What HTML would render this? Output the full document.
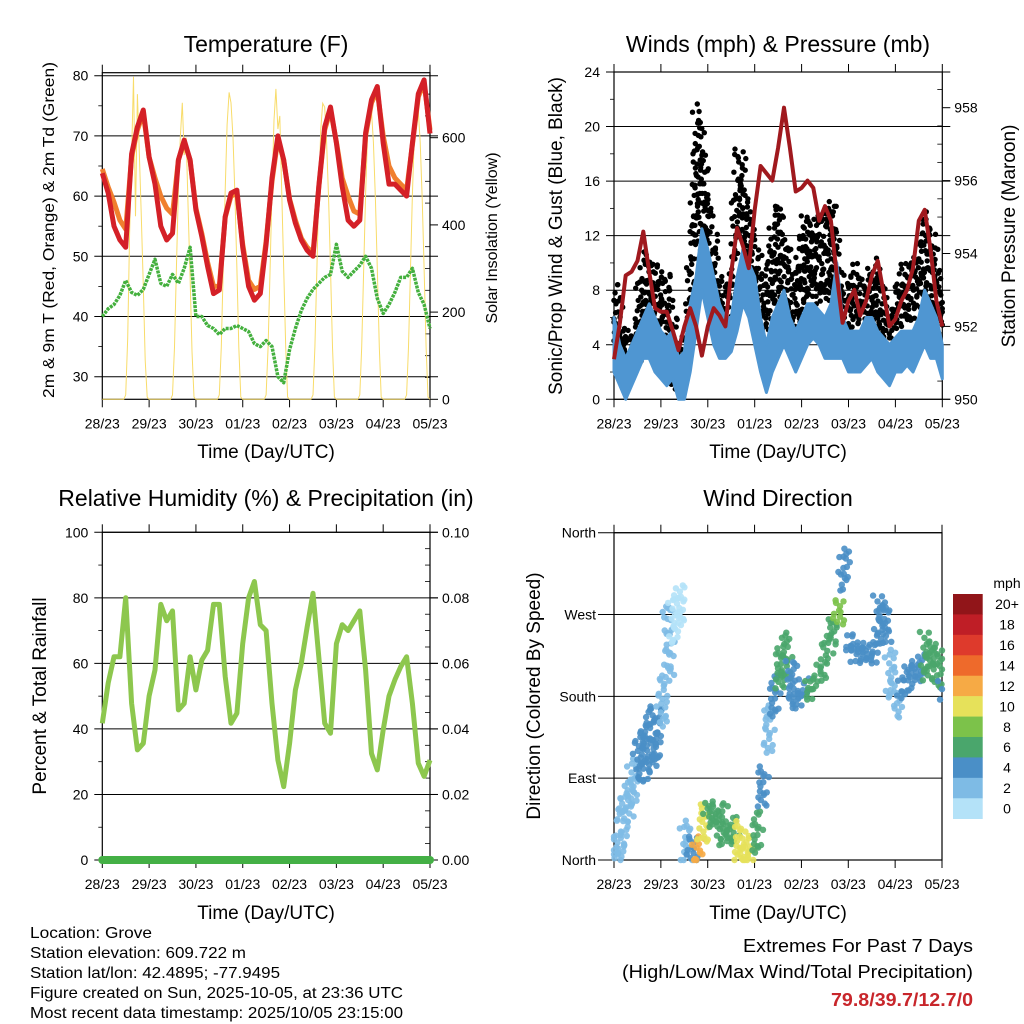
<!DOCTYPE html>
<html><head><meta charset="utf-8">
<style>
html,body{margin:0;padding:0;background:#fff;}
svg{display:block;font-family:"Liberation Sans",sans-serif;}
</style></head>
<body>
<svg id="chart" width="1024" height="1024" viewBox="0 0 1024 1024" xmlns="http://www.w3.org/2000/svg">
<rect width="1024" height="1024" fill="#fff"/>
<!-- titles -->
<text x="266" y="52" font-size="23" text-anchor="middle">Temperature (F)</text>
<text x="778" y="52" font-size="23" text-anchor="middle">Winds (mph) &amp; Pressure (mb)</text>
<text x="266" y="506" font-size="23" text-anchor="middle">Relative Humidity (%) &amp; Precipitation (in)</text>
<text x="778" y="506" font-size="23" text-anchor="middle">Wind Direction</text>
<!-- axis titles -->
<text x="266" y="458" font-size="19" text-anchor="middle">Time (Day/UTC)</text>
<text x="778" y="458" font-size="19" text-anchor="middle">Time (Day/UTC)</text>
<text x="266" y="919" font-size="19" text-anchor="middle">Time (Day/UTC)</text>
<text x="778" y="919" font-size="19" text-anchor="middle">Time (Day/UTC)</text>
<text transform="translate(54,230) rotate(-90)" font-size="16" text-anchor="middle" textLength="336" lengthAdjust="spacingAndGlyphs">2m &amp; 9m T (Red, Orange) &amp; 2m Td (Green)</text>
<text transform="translate(497,238) rotate(-90)" font-size="16" text-anchor="middle">Solar Insolation (Yellow)</text>
<text transform="translate(562,236) rotate(-90)" font-size="19" text-anchor="middle">Sonic/Prop Wind &amp; Gust (Blue, Black)</text>
<text transform="translate(1015,236) rotate(-90)" font-size="19" text-anchor="middle">Station Pressure (Maroon)</text>
<text transform="translate(46,696) rotate(-90)" font-size="19" text-anchor="middle">Percent &amp; Total Rainfall</text>
<text transform="translate(540,696) rotate(-90)" font-size="19" text-anchor="middle">Direction (Colored By Speed)</text>
<!-- footer -->
<g font-size="16">
<text x="30" y="938" textLength="122" lengthAdjust="spacingAndGlyphs">Location: Grove</text>
<text x="30" y="958" textLength="216" lengthAdjust="spacingAndGlyphs">Station elevation: 609.722 m</text>
<text x="30" y="978" textLength="250" lengthAdjust="spacingAndGlyphs">Station lat/lon: 42.4895; -77.9495</text>
<text x="30" y="998" textLength="373" lengthAdjust="spacingAndGlyphs">Figure created on Sun, 2025-10-05, at 23:36 UTC</text>
<text x="30" y="1018" textLength="373" lengthAdjust="spacingAndGlyphs">Most recent data timestamp: 2025/10/05 23:15:00</text>
</g>
<g font-size="18" text-anchor="end">
<text x="973" y="952" textLength="230" lengthAdjust="spacingAndGlyphs">Extremes For Past 7 Days</text>
<text x="973" y="978" textLength="351" lengthAdjust="spacingAndGlyphs">(High/Low/Max Wind/Total Precipitation)</text>
<text x="973" y="1006" fill="#c8262b" font-weight="bold" textLength="142" lengthAdjust="spacingAndGlyphs">79.8/39.7/12.7/0</text>
</g>
<g id="layer"></g>
</svg>
<script>
// ---- shared time base (days since 28/23, 3-hour steps) ----
const dayLabels = ["28/23","29/23","30/23","01/23","02/23","03/23","04/23","05/23"];
const days = [];
for (let i = 0; i <= 56; i++) days.push(i / 8);

// ---- temperature panel data ----
const temp2m = [63.8,60.5,55,52.7,51.5,67,71.5,74.3,66.5,62,55,52.7,53.8,66,69.3,66,57.7,53.3,48.3,43.8,44.4,56.6,60.5,61,51.5,45,42.7,43.8,52,63,70,66,59.3,55.5,52.7,51,50,61.6,71.5,74.8,68.8,61.6,56,55,56,70.5,76,78.2,68.8,62,62,61,60,68.8,77,79.3,70.4];
const temp9m = [64.5,61.5,59,56,54.5,66.5,71,73.8,66.5,63,60,58,57,66,69,66,58,53.8,49,45,45,56.5,60,60.5,52,46,44.5,45,52.5,62.5,69.5,66,59.5,56,53,51.5,50.5,61.5,71,74.3,69,63,60,57.5,57,70,75.5,77.5,70,65,63,62,61,68.5,76.5,78.8,71];
const dewpt = [40,41.3,42,43.5,46,44,43.5,44.5,47,49.5,45.5,45,47,45.5,48,51.5,40,40,38.5,38,37,38,38,38.5,38,37.5,35.5,35,36,35,30,29,34.5,38,41,43,44.5,45.5,46.5,47,52,47.5,46.5,47.5,48.5,50,48,43,40.5,42,44,46.5,46.5,48,44,42,38];
// hourly solar insolation (W/m2), one row per day, hours 0..23
const solarDay0 = [0,0,0,0,0,0,0,0,0,0,0,0,10,140,380,560,740,420,700,560,420,260,90,5];
const solarDay1 = [0,0,0,0,0,0,0,0,0,0,0,0,10,120,300,480,600,680,560,600,440,280,110,5];
const solarDay2 = [0,0,0,0,0,0,0,0,0,0,0,0,10,120,300,480,630,704,680,600,470,300,120,5];
const solarDay3 = [0,0,0,0,0,0,0,0,0,0,0,0,10,120,300,480,640,712,620,650,470,300,120,5];
const solarDay4 = [0,0,0,0,0,0,0,0,0,0,0,0,10,120,300,480,620,679,670,590,460,300,120,5];
const solarDay5 = [0,0,0,0,0,0,0,0,0,0,0,0,10,120,300,470,610,671,660,590,460,300,120,5];
const solarDay6 = [0,0,0,0,0,0,0,0,0,0,0,0,10,120,300,470,610,671,660,590,460,300,120,5];

// ---- wind panel data ----
const pressure = [951.1,952.1,953.4,953.5,953.8,954.6,953.5,952.5,952.4,952.4,951.9,951.35,952,952.5,952,951.2,952,952.5,952.3,952,953.5,954.7,954.2,953.6,955.2,956.4,956.2,956,956.9,958,956.9,955.7,955.8,956,955.8,954.9,955.3,954.9,953.4,952.1,952.7,953,952.3,952.7,953.4,953.8,952.9,952,952.2,952.7,953,953.6,954.9,955.2,954.1,952.7,952];
const windLow = [2,1,0,1,2,3,3,2,1.5,1,1.5,0,0,2,5,8,6,4,3,3,3.5,5,7,6,4,2,0.5,2,3,4,3,2,3,4,4.5,4,3,3,3,3,2,2,2,2.5,3,2,1.5,1,2,2,2.5,2,3,4,3,3,1.5];
const windHigh = [6,4,3,4,5,6,7,6,5,4.5,5,3,3.5,7,9,12.5,11,9,7,6,6,9,11,10,9,6,4,6,7,8,6,5,6,7,7,6.5,6,7,10,6,5,5,5,6,6,5,4.5,4,4.5,5,5,5,6,8,7,6,4];
const gustLow = [5,2,1,2,3,5,6,4,3,3,1,1,2,6,12,11,9,6,5,5,6,12,12,8,7,3,4,7,8,5,4,4,6,8,8,7,8,7,6,5,5,6,6,6,6,5,4,3,5,6,6,6,7,8,7,6,5];
const gustHigh = [9,7,5,5,7,11,11,10,9,10,7,4,5,11,22,20,16,13,9,8,10,19,18,14,12,10,9,13,15,13,10,9,13,14,13,14,13,15,13,8,9,10,9,9,10,10,8,6,8,10,10,10,11,14,13,11,8];

// ---- humidity panel data ----
const rh = [41.7,54,62,62,80,47.8,33.6,35.6,50,58,78,73,76,45.8,47.8,62,51.9,61,64,78,78,56,41.7,44.8,66,80,85,71.8,70,47.8,30.5,22.4,35.6,51.9,60,71,81.4,62,41.7,38.7,66,71.8,70,73,76,58,32.5,27.5,39.7,50,55,59,62,47.8,29.5,25.5,30.5];
const precip = [0,0,0,0,0,0,0,0,0,0,0,0,0,0,0,0,0,0,0,0,0,0,0,0,0,0,0,0,0,0,0,0,0,0,0,0,0,0,0,0,0,0,0,0,0,0,0,0,0,0,0,0,0,0,0,0,0];

// ---- wind direction panel data (degrees, 0=N 90=E 180=S 270=W 360=N) ----
const dirLow = [0,10,40,60,90,90,100,110,150,200,240,260,0,0,0,20,40,40,20,20,20,0,0,0,10,60,120,160,190,200,170,170,180,180,190,200,220,240,260,300,230,220,220,220,220,240,240,180,160,180,190,200,200,200,210,190,180];
const dirHigh = [30,70,95,110,140,150,170,170,200,280,290,300,40,30,30,60,70,60,60,40,45,40,30,20,50,100,170,200,230,250,220,190,200,200,205,220,250,270,290,340,250,240,240,240,240,290,280,230,190,200,220,220,230,250,240,230,200];
const dirSpeed = [2,1,1.5,2,3,3,3.5,3,2,1,0.5,0.5,2,4,11,9,6,6,5,5,5,9,10,9,5,3,2,4,5,6,4,3,3.5,5,5,5,5,6,7,4,3,3,3,3.5,3.5,4.5,4,2,2,3,3,3.5,4,5,6,5,4];
const speedBins = ["0","2","4","6","8","10","12","14","16","18","20+"];
const speedColors = ["#b4e2f8","#7ebbe5","#4a8fc7","#4aa66c","#7cc24a","#e6e15a","#f6aa45","#ee6a2b","#de3a2c","#bf1e26","#911519"];

// ================= rendering =================
const NS = "http://www.w3.org/2000/svg";
const layer = document.getElementById("layer");
function el(tag, attrs, parent) {
  const e = document.createElementNS(NS, tag);
  for (const k in attrs) e.setAttribute(k, attrs[k]);
  (parent || layer).appendChild(e);
  return e;
}
function linePath(xs, ys) {
  let d = "";
  for (let i = 0; i < xs.length; i++) {
    if (ys[i] === null) continue;
    d += (d ? "L" : "M") + xs[i].toFixed(1) + "," + ys[i].toFixed(1);
  }
  return d;
}
// deterministic scatter offsets (layout only)
const jit = [0.1,-0.7,0.5,-0.2,0.9,-0.9,0.3,-0.5,0.7,-0.1,0.0,0.6,-0.4,0.8,-0.8,0.2,-0.6,0.4,-0.3];

const P1 = {L:102.3, R:430, T:72.7, B:399.3};
const P2 = {L:614, R:942.3, T:72, B:399.3};
const P3 = {L:102.3, R:430, T:532.3, B:860};
const P4 = {L:614, R:942, T:532.7, B:860};
function xScale(P){ return d => P.L + d / 7 * (P.R - P.L); }

const x1 = xScale(P1), x2 = xScale(P2), x3 = xScale(P3), x4 = xScale(P4);
const yT = t => 75.7 + (80 - t) * 6.02;
const yS = s => P1.B - s * 0.436;
const yW = w => P2.B - w * (P2.B - P2.T) / 24;
const yP = p => P2.B - (p - 950) * 36.45;
const yRH = v => P3.B - v * (P3.B - P3.T) / 100;
const yPr = v => P3.B - v * (P3.B - P3.T) / 0.1;
const yD = v => P4.B - v * (P4.B - P4.T) / 360;

function drawFrame(P, xs, name, opts) {
  const g = el("g", {});
  
  
  opts.left.forEach(([v, lab]) => {
    const y = opts.yl(v);
    el("line", {x1:P.L - (opts.gridExt||8), x2:P.R + (opts.right ? 8 : 0), y1:y, y2:y, stroke:"#000", "stroke-width":1}, g);
    const t = el("text", {x:P.L - (opts.labOff||12), y:y + 5, "font-size":14, "text-anchor":"end"}, g);
    t.textContent = lab;
    
    
  });
  (opts.leftMinor || []).forEach(v => {
    const y = opts.yl(v);
    el("line", {x1:P.L - 4, x2:P.L, y1:y, y2:y, stroke:"#000", "stroke-width":0.8}, g);
  });
  if (opts.right) {
    opts.right.forEach(([v, lab]) => {
      const y = opts.yr(v);
      el("line", {x1:P.R, x2:P.R + 8, y1:y, y2:y, stroke:"#000", "stroke-width":1}, g);
      const t = el("text", {x:P.R + 12, y:y + 5, "font-size":14}, g);
      t.textContent = lab;
      
      
    });
    (opts.rightMinor || []).forEach(v => {
      const y = opts.yr(v);
      el("line", {x1:P.R - 5, x2:P.R, y1:y, y2:y, stroke:"#000", "stroke-width":0.8}, g);
    });
  }
  dayLabels.forEach((lab, i) => {
    const x = xs(i);
    el("line", {x1:x, x2:x, y1:P.B, y2:P.B + 8, stroke:"#000", "stroke-width":1}, g);
    el("line", {x1:x, x2:x, y1:P.T - 8, y2:P.T, stroke:"#000", "stroke-width":1}, g);
    const t = el("text", {x:x, y:P.B + 29, "font-size":14, "text-anchor":"middle"}, g);
    t.textContent = lab;
    
    
  });
  el("rect", {x:P.L, y:P.T, width:P.R - P.L, height:P.B - P.T, fill:"none", stroke:"#000", "stroke-width":1.2}, g);
}

// ---------- Panel 1: Temperature ----------
drawFrame(P1, x1, "temperature", {
  yl:yT, yr:yS, labOff:14,
  left:[[30,"30"],[40,"40"],[50,"50"],[60,"60"],[70,"70"],[80,"80"]],
  leftMinor:[35,45,55,65,75],
  right:[[0,"0"],[200,"200"],[400,"400"],[600,"600"]],
  rightMinor:[50,100,150,250,300,350,450,500,550,650,700]
});
{
  const solarRows = [solarDay0,solarDay1,solarDay2,solarDay3,solarDay4,solarDay5,solarDay6];
  const sx = [], sy = [];
  solarRows.forEach((row, d) => row.forEach((v, h) => { sx.push(x1(d + h / 24)); sy.push(yS(v)); }));
  sx.push(x1(7)); sy.push(yS(0));
  const p = el("path", {d:linePath(sx, sy), fill:"none", stroke:"#f8dc6a", "stroke-width":1});
  
  
  const xs = days.map(x1);
  const o = el("path", {d:linePath(xs, temp9m.map(yT)), fill:"none", stroke:"#f07f2e", "stroke-width":5, "stroke-linejoin":"round"});
  
  
  const r = el("path", {d:linePath(xs, temp2m.map(yT)), fill:"none", stroke:"#d42027", "stroke-width":5, "stroke-linejoin":"round"});
  
  
  const gr = el("path", {d:linePath(xs, dewpt.map(yT)), fill:"none", stroke:"#44b03e", "stroke-width":3.5, "stroke-dasharray":"3 1", "stroke-linejoin":"round"});
  
  
}

// ---------- Panel 2: Winds & Pressure ----------
drawFrame(P2, x2, "winds", {
  yl:yW, yr:yP, labOff:14,
  left:[[0,"0"],[4,"4"],[8,"8"],[12,"12"],[16,"16"],[20,"20"],[24,"24"]],
  leftMinor:[2,6,10,14,18,22],
  right:[[950,"950"],[952,"952"],[954,"954"],[956,"956"],[958,"958"]],
  rightMinor:[950.5,951,951.5,952.5,953,953.5,954.5,955,955.5,956.5,957,957.5,958.5]
});
{
  const gDots = el("g", {fill:"#000"});
  
  
  let c = 0;
  for (let i = 0; i < days.length; i++) {
    for (let k = 0; k < 4; k++) {
      if (i === days.length - 1 && k > 0) break;
      const f = k / 4;
      const j = Math.min(i + 1, days.length - 1);
      const lo = gustLow[i] + (gustLow[j] - gustLow[i]) * f;
      const hi = gustHigh[i] + (gustHigh[j] - gustHigh[i]) * f;
      const d = days[i] + f / 8;
      for (let v = lo; v <= hi + 0.01; v += 0.9) {
        const jx = jit[c % jit.length] * 4, jy = jit[(c * 7 + 3) % jit.length] * 0.5;
        c++;
        el("circle", {cx:Math.min(P2.R, Math.max(P2.L, x2(d) + jx)).toFixed(1), cy:yW(Math.max(0, v + jy)).toFixed(1), r:2.7}, gDots);
      }
    }
  }
  const xs = days.map(x2);
  let d = linePath(xs, windHigh.map(yW));
  for (let i = days.length - 1; i >= 0; i--) d += "L" + xs[i].toFixed(1) + "," + yW(windLow[i]).toFixed(1);
  const band = el("path", {d:d + "Z", fill:"#4f96d2", stroke:"#4f96d2", "stroke-width":3, "stroke-linejoin":"round"});
  
  
  const pl = el("path", {d:linePath(xs, pressure.map(yP)), fill:"none", stroke:"#a0191e", "stroke-width":4, "stroke-linejoin":"round"});
  
  
}

// ---------- Panel 3: RH & Precip ----------
drawFrame(P3, x3, "humidity", {
  yl:yRH, yr:yPr, labOff:14,
  left:[[0,"0"],[20,"20"],[40,"40"],[60,"60"],[80,"80"],[100,"100"]],
  leftMinor:[10,30,50,70,90],
  right:[[0,"0.00"],[0.02,"0.02"],[0.04,"0.04"],[0.06,"0.06"],[0.08,"0.08"],[0.1,"0.10"]],
  rightMinor:[0.005,0.01,0.015,0.025,0.03,0.035,0.045,0.05,0.055,0.065,0.07,0.075,0.085,0.09,0.095]
});
{
  const xs = days.map(x3);
  const rl = el("path", {d:linePath(xs, rh.map(yRH)), fill:"none", stroke:"#8dc74e", "stroke-width":5, "stroke-linejoin":"round"});
  
  
  const pr = el("path", {d:linePath(xs, precip.map(yPr)), fill:"none", stroke:"#44b045", "stroke-width":8, "stroke-linecap":"round"});
  
  
}

// ---------- Panel 4: Wind direction ----------
drawFrame(P4, x4, "direction", {
  yl:yD, labOff:18, gridExt:16,
  left:[[0,"North"],[90,"East"],[180,"South"],[270,"West"],[360,"North"]]
});
{
  const gD = el("g", {"fill-opacity":0.9});
  
  
  let c = 0;
  for (let i = 0; i < days.length; i++) {
    for (let k = 0; k < 3; k++) {
      if (i === days.length - 1 && k > 0) break;
      const d = days[i] + k / 24;
      const bin = Math.min(10, Math.max(0, Math.round(dirSpeed[i] / 2)));
      for (let v = dirLow[i]; v <= dirHigh[i] + 0.01; v += 8) {
        const jx = jit[c % jit.length] * 5, jy = jit[(c * 5 + 2) % jit.length] * 4;
        c++;
        el("circle", {cx:Math.min(P4.R, Math.max(P4.L, x4(d) + jx)).toFixed(1), cy:yD(Math.max(0, v + jy)).toFixed(1), r:3.2, fill:speedColors[bin]}, gD);
      }
    }
  }
  const lg = el("g", {});
  
  
  const mt = el("text", {x:1007, y:588, "font-size":14, "text-anchor":"middle"}, lg);
  mt.textContent = "mph";
  const bh = (818.7 - 594) / speedBins.length;
  for (let b = 0; b < speedBins.length; b++) {
    const idx = speedBins.length - 1 - b;
    const y = 594 + b * bh;
    const r = el("rect", {x:953, y:y, width:29.7, height:bh + 0.3, fill:speedColors[idx]}, lg);
    
    
    const t = el("text", {x:1007, y:y + bh / 2 + 5, "font-size":14, "text-anchor":"middle"}, lg);
    t.textContent = speedBins[idx];
    
    
  }
}
</script>
</body></html>
